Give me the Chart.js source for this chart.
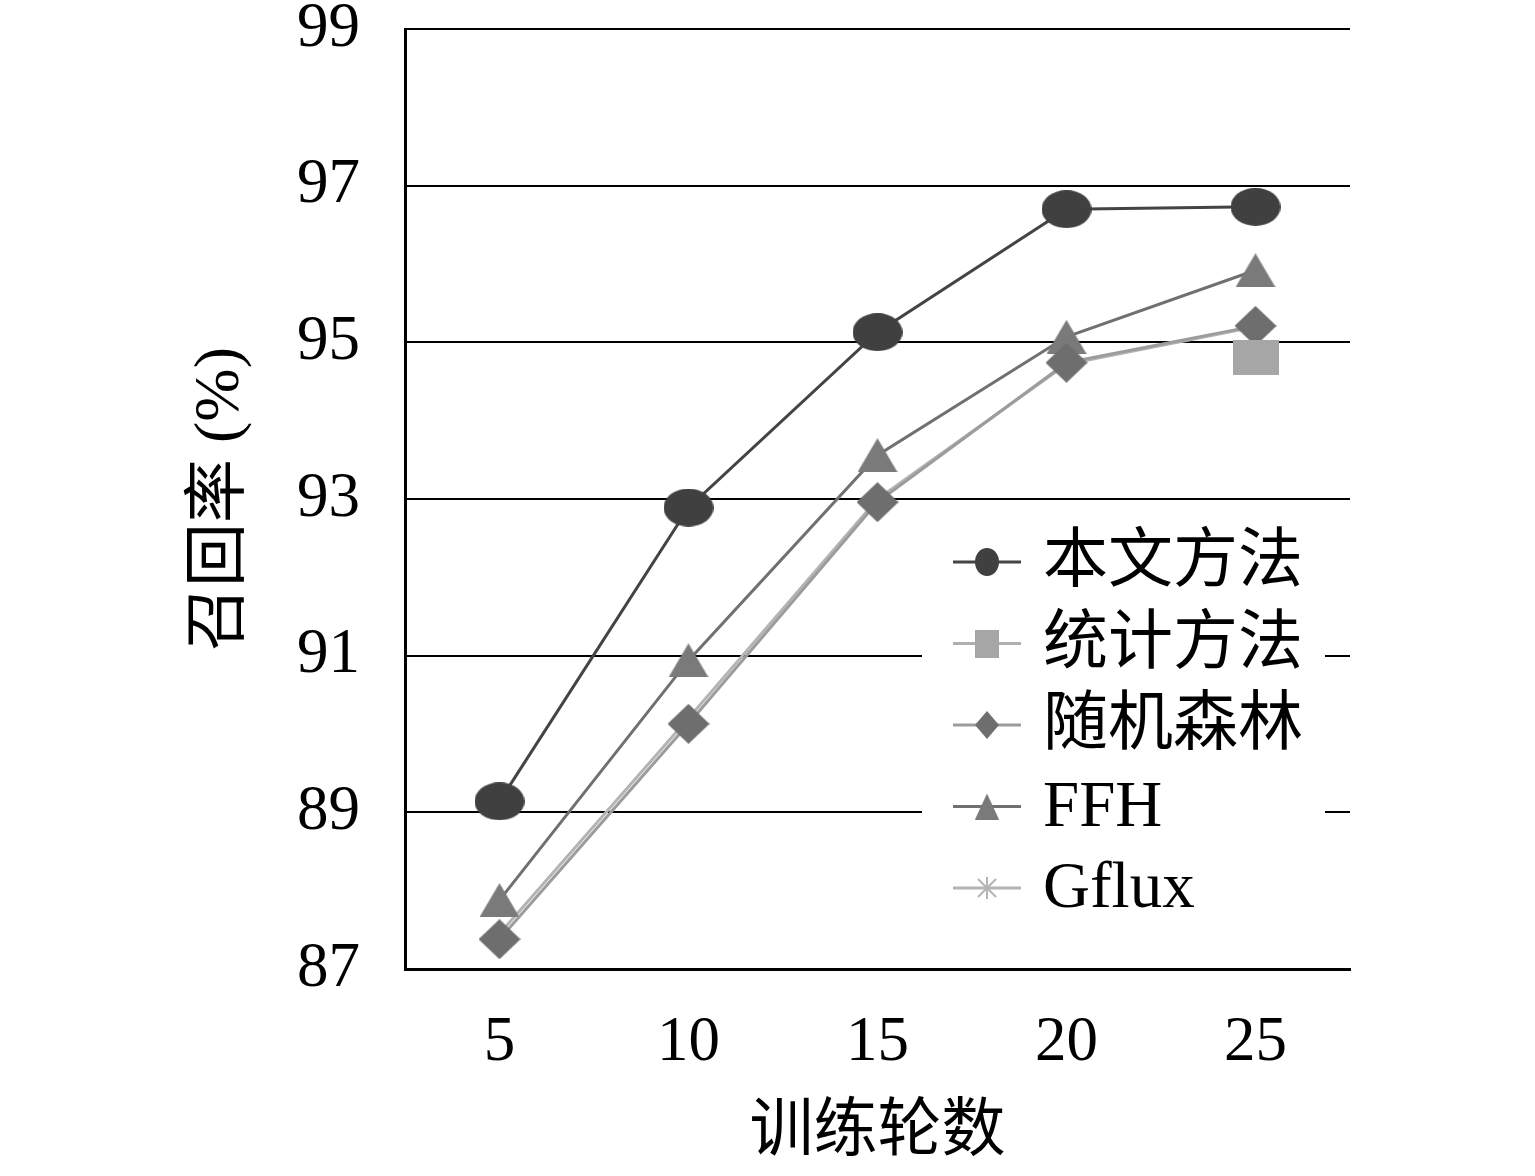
<!DOCTYPE html>
<html>
<head>
<meta charset="utf-8">
<script src="https://cdn.jsdelivr.net/npm/chart.js@4.4.1/dist/chart.umd.min.js"></script>
<style>
  html, body { margin: 0; padding: 0; background: #fff; }
  #box { width: 1535px; height: 1176px; }
</style>
</head>
<body>
<div id="box"><canvas id="myChart"></canvas></div>
<script>
// số liệu
const epochs = ["5", "10", "15", "20", "25"]
const ourMethod = [89.14, 92.89, 95.13, 96.70, 96.73]
const statMethod = [null, null, null, null, 94.81]
const randomForest = [87.38, 90.13, 92.96, 94.74, 95.21]
const ffh = [87.88, 90.94, 93.56, 95.07, 95.92]
const gflux = [87.45, 90.2, 93.0, 94.72, 95.2]
const yTicks = [87, 89, 91, 93, 95, 97, 99]
const seriesNames = ["本文方法", "统计方法", "随机森林", "FFH", "Gflux"]

const FONT = '"Liberation Serif", "Noto Sans CJK SC", serif'

// vẽ marker bằng canvas (hình hơi dẹt giống ảnh gốc)
function makeMarker(kind, w, h, fill) {
  const c = document.createElement("canvas")
  c.width = w; c.height = h
  const g = c.getContext("2d")
  g.fillStyle = fill
  g.strokeStyle = fill
  g.beginPath()
  if (kind == "circle") {
    g.ellipse(w / 2, h / 2, w / 2, h / 2, 0, 0, Math.PI * 2)
  } else if (kind == "rect") {
    g.rect(0, 0, w, h)
  } else if (kind == "diamond") {
    g.moveTo(w / 2, 0); g.lineTo(w, h / 2); g.lineTo(w / 2, h); g.lineTo(0, h / 2)
  } else if (kind == "tri") {
    g.moveTo(w / 2, 0); g.lineTo(w, h); g.lineTo(0, h)
  } else if (kind == "cross") {
    g.lineWidth = 2
    g.moveTo(2, 2); g.lineTo(w - 2, h - 2)
    g.moveTo(w - 2, 2); g.lineTo(2, h - 2)
    g.moveTo(w / 2, 0); g.lineTo(w / 2, h)
    g.stroke()
    return c
  }
  g.closePath()
  g.fill()
  return c
}

const colors = {
  our: "#404040", ourLine: "#444444",
  stat: "#a6a6a6", statLine: "#b0b0b0",
  rf: "#6e6e6e", rfLine: "#9c9c9c",
  ffh: "#7a7a7a", ffhLine: "#707070",
  gf: "#b4b4b4", gfLine: "#b4b4b4"
}

const mk = {
  our: makeMarker("circle", 50, 38, colors.our),
  stat: makeMarker("rect", 46, 35, colors.stat),
  rf: makeMarker("diamond", 42, 40, colors.rf),
  ffh: makeMarker("tri", 40, 34, colors.ffh),
  gf: makeMarker("cross", 16, 16, colors.gf)
}

const legendMk = {
  our: makeMarker("circle", 24, 28, colors.our),
  stat: makeMarker("rect", 24, 28, colors.stat),
  rf: makeMarker("diamond", 24, 28, colors.rf),
  ffh: makeMarker("tri", 24, 26, colors.ffh),
  gf: makeMarker("cross", 22, 22, colors.gf)
}

// chú thích nằm trong vùng biểu đồ, nền trắng che lưới
const legendBox = {
  id: "legendBox",
  afterDatasetsDraw(chart) {
    const ctx = chart.ctx
    ctx.save()
    ctx.fillStyle = "#ffffff"
    ctx.fillRect(922, 515, 403, 440)
    const keys = ["our", "stat", "rf", "ffh", "gf"]
    const lines = [colors.ourLine, colors.statLine, colors.rfLine, colors.ffhLine, colors.gfLine]
    for (let i = 0; i < keys.length; i++) {
      const y = 562 + i * 81.5
      ctx.strokeStyle = lines[i]
      ctx.lineWidth = 3
      ctx.beginPath()
      ctx.moveTo(953, y); ctx.lineTo(1021, y)
      ctx.stroke()
      const m = legendMk[keys[i]]
      ctx.drawImage(m, 987 - m.width / 2, y - m.height / 2)
      ctx.fillStyle = "#000"
      ctx.font = "65px " + FONT
      ctx.textBaseline = "middle"
      ctx.textAlign = "left"
      ctx.fillText(seriesNames[i], 1043, y + 2)
    }
    ctx.restore()
  }
}

function ds(label, data, color, line, marker) {
  return {
    label: label,
    data: data,
    borderColor: line,
    backgroundColor: color,
    borderWidth: 3,
    pointStyle: marker,
    pointRadius: 20,
    pointHoverRadius: 20,
    tension: 0,
    spanGaps: false
  }
}

const chart = new Chart("myChart", {
  type: "line",
  data: {
    labels: epochs,
    datasets: [
      ds(seriesNames[0], ourMethod, colors.our, colors.ourLine, mk.our),
      ds(seriesNames[1], statMethod, colors.stat, colors.statLine, mk.stat),
      ds(seriesNames[2], randomForest, colors.rf, colors.rfLine, mk.rf),
      ds(seriesNames[3], ffh, colors.ffh, colors.ffhLine, mk.ffh),
      ds(seriesNames[4], gflux, colors.gf, colors.gfLine, mk.gf)
    ]
  },
  options: {
    responsive: true,
    maintainAspectRatio: false,
    animation: false,
    events: [],
    layout: { padding: { left: 0, right: 185, top: 29, bottom: 0 } },
    plugins: {
      legend: { display: false },
      tooltip: { enabled: false }
    },
    scales: {
      x: {
        offset: true,
        grid: { display: false, drawTicks: false },
        border: { display: true, color: "#000", width: 3 },
        ticks: { color: "#000", font: { family: FONT, size: 63 }, padding: 37, maxRotation: 0 },
        title: { display: true, text: "训练轮数", color: "#000", font: { family: FONT, size: 64 }, padding: { top: 0, bottom: 4 } },
        afterFit(s) { s.height = 207; s.paddingLeft = 0; s.paddingRight = 0 }
      },
      y: {
        min: yTicks[0],
        max: yTicks[yTicks.length - 1],
        afterBuildTicks(s) { s.ticks = yTicks.map(v => ({ value: v })) },
        grid: { color: "#000", lineWidth: 2, drawTicks: false },
        border: { display: true, color: "#000", width: 3 },
        ticks: { color: "#000", font: { family: FONT, size: 63 }, padding: 45 },
        title: { display: true, text: "召回率 (%)", color: "#000", font: { family: FONT, size: 64 }, padding: { top: 183, bottom: 0 } },
        afterFit(s) { s.width = 405; s.paddingTop = 0; s.paddingBottom = 0 }
      }
    }
  },
  plugins: [legendBox]
})
</script>
</body>
</html>
